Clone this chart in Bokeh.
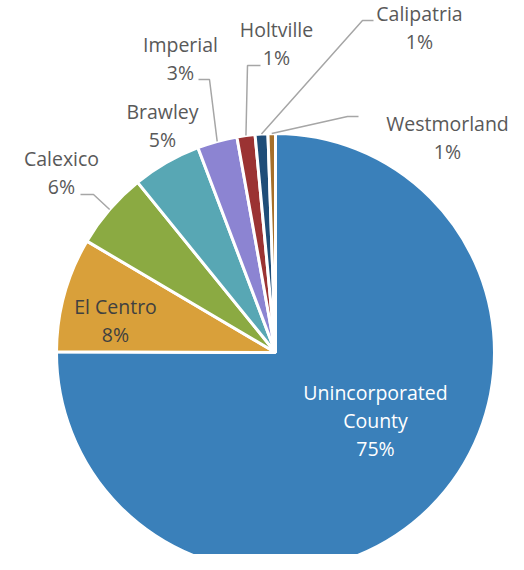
import math
from bokeh.plotting import figure
from bokeh.models import Range1d, ColumnDataSource
from bokeh.embed import file_html
from bokeh.resources import INLINE
from bokeh.core.properties import value

# ---- data ----
categories = ["Unincorporated County", "El Centro", "Calexico", "Brawley",
              "Imperial", "Holtville", "Calipatria", "Westmorland"]
shares = [75.05, 8.44, 5.67, 5.08, 2.94, 1.33, 0.94, 0.55]
colors = ["#3A80BA", "#D9A03A", "#8BAA42", "#58A7B4",
          "#8C84D2", "#9B3333", "#1F4D78", "#A66F2A"]
name_lines = [["Unincorporated", "County"], ["El Centro"], ["Calexico"], ["Brawley"],
              ["Imperial"], ["Holtville"], ["Calipatria"], ["Westmorland"]]

# ---- layout ----
W, H = 508, 554
def X(xs): return xs
def Y(ys): return H - ys

cx, cy, R = X(275), Y(352), 219
GRAY = "#595959"
LEADER = "#A6A6A6"
FONT = "Open Sans"
FS = "19.5px"
STEP = 28
TEXT_SHIFT = -8

# anchor x, first baseline y (page px), text colour, leader elbow points (page px)
label_layout = [
    (375, 400, "white", None),
    (115, 314, "#404040", None),
    (61, 166, GRAY, [(80, 194), (93, 194)]),
    (162, 119, GRAY, None),
    (180, 52, GRAY, [(198, 79), (209, 79)]),
    (276, 37, GRAY, [(260, 65), (247, 65)]),
    (419, 21, GRAY, [(373, 20), (362, 20)]),
    (447, 131, GRAY, [(358, 116), (347, 116)]),
]

total = sum(shares)
starts, ends, mids = [], [], []
cum = 0.0
for s in shares:
    a0 = math.pi / 2 - 2 * math.pi * cum / total
    cum += s
    a1 = math.pi / 2 - 2 * math.pi * cum / total
    starts.append(a0)
    ends.append(a1)
    mids.append((a0 + a1) / 2)

p = figure(width=W, height=H, x_range=Range1d(0, W), y_range=Range1d(0, H),
           output_backend="svg", toolbar_location=None, min_border=0)
p.axis.visible = False
p.grid.visible = False
p.outline_line_color = None
p.background_fill_color = "white"
p.border_fill_color = "white"

wsrc = ColumnDataSource(dict(start=starts, end=ends, color=colors, cat=categories))
p.wedge(x=cx, y=cy, radius=R, start_angle="start", end_angle="end",
        direction="clock", fill_color="color", line_color="white",
        line_width=3, source=wsrc)

tx, ty, tt, tc = [], [], [], []
lxs, lys = [], []
for i, cat in enumerate(categories):
    ax, by, col, elbow = label_layout[i]
    pct = f"{round(shares[i] / total * 100)}%"
    lines = name_lines[i] + [pct]
    for k, ln in enumerate(lines):
        tx.append(X(ax))
        ty.append(Y(by + k * STEP + TEXT_SHIFT))
        tt.append(ln)
        tc.append(col)
    if elbow:
        ex = cx + R * math.cos(mids[i])
        ey = cy + R * math.sin(mids[i])
        lxs.append([X(px) for px, _ in elbow] + [ex])
        lys.append([Y(py) for _, py in elbow] + [ey])

p.multi_line(xs=lxs, ys=lys, line_color=LEADER, line_width=1.5)

tsrc = ColumnDataSource(dict(x=tx, y=ty, text=tt, color=tc))
p.text(x="x", y="y", text="text", text_color="color", source=tsrc,
       text_align="center", text_baseline="alphabetic",
       text_font=value(FONT), text_font_size=FS)

open("out.html", "w").write(file_html(p, INLINE))
